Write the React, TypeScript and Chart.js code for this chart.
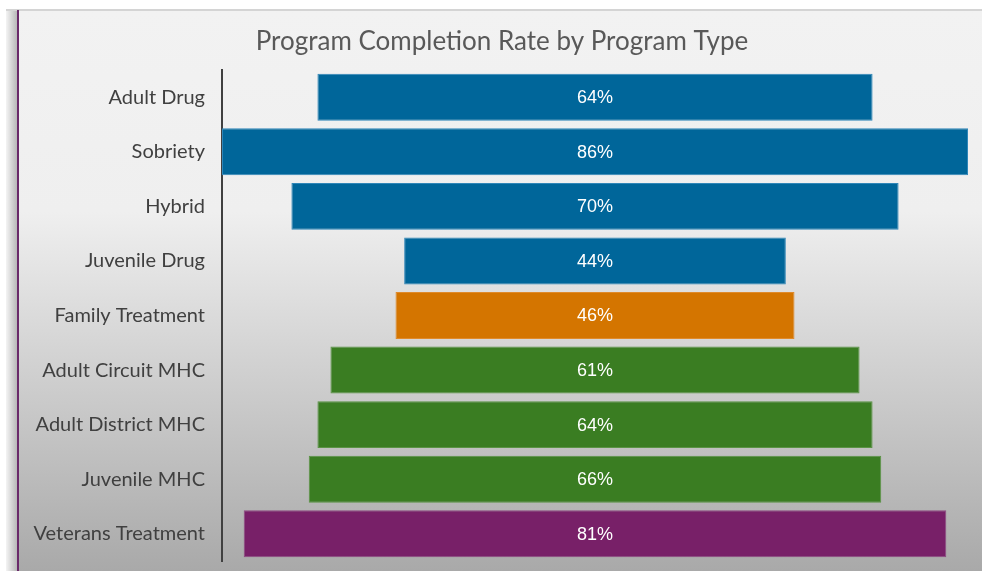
import React, { useEffect, useRef } from "react";
import { Chart, registerables } from "chart.js";

Chart.register(...registerables);

const categories = [
  "Adult Drug",
  "Sobriety",
  "Hybrid",
  "Juvenile Drug",
  "Family Treatment",
  "Adult Circuit MHC",
  "Adult District MHC",
  "Juvenile MHC",
  "Veterans Treatment",
];
const completionRates = [64, 86, 70, 44, 46, 61, 64, 66, 81];
const barColors = [
  "#00669A",
  "#00669A",
  "#00669A",
  "#00669A",
  "#D47500",
  "#3A7D22",
  "#3A7D22",
  "#3A7D22",
  "#782068",
];
const borderColors = [
  "#2F86B8",
  "#2F86B8",
  "#2F86B8",
  "#2F86B8",
  "#E08A2A",
  "#5A9444",
  "#5A9444",
  "#5A9444",
  "#8E4A82",
];
const title = "Program Completion Rate by Program Type";

const W = 982;
const H = 571;
const AREA_TOP = 70;
const AREA_BOTTOM = 561;

const backgroundPlugin = {
  id: "cardBackground",
  beforeDraw(chart: any) {
    const ctx = chart.ctx;
    ctx.save();
    ctx.fillStyle = "#ffffff";
    ctx.fillRect(0, 0, W, H);
    const sh = ctx.createLinearGradient(6, 0, 17, 0);
    sh.addColorStop(0, "#f4f4f4");
    sh.addColorStop(1, "#b8b8b8");
    ctx.fillStyle = sh;
    ctx.fillRect(6, 10, 11, H - 10);
    const g = ctx.createLinearGradient(0, 10, 0, H);
    g.addColorStop(0, "#f2f2f2");
    g.addColorStop(0.36, "#efefef");
    g.addColorStop(1, "#a9a9a9");
    ctx.fillStyle = g;
    ctx.fillRect(17, 10, W - 17, H - 10);
    ctx.fillStyle = "#d4d4d4";
    ctx.fillRect(6, 9, W - 6, 2);
    ctx.fillStyle = "#6a2a6a";
    ctx.fillRect(17, 10, 2, H - 10);
    ctx.fillStyle = "#595959";
    ctx.font = "26px Lato, 'Open Sans', sans-serif";
    ctx.textAlign = "center";
    ctx.textBaseline = "alphabetic";
    ctx.fillText(title, 502, 50);
    ctx.restore();
  },
};

const labelPlugin = {
  id: "barLabels",
  afterDatasetsDraw(chart: any) {
    const ctx = chart.ctx;
    const meta = chart.getDatasetMeta(0);
    const xScale = chart.scales.x;
    ctx.save();
    ctx.fillStyle = "#ffffff";
    ctx.font = "18px 'Liberation Sans', Arial, sans-serif";
    ctx.textAlign = "center";
    ctx.textBaseline = "middle";
    meta.data.forEach((bar: any, i: number) => {
      ctx.fillText(completionRates[i] + "%", xScale.getPixelForValue(0), bar.y + 1);
    });
    ctx.restore();
  },
};

export default function App() {
  const ref = useRef<HTMLCanvasElement>(null);

  useEffect(() => {
    if (!ref.current) return;
    const chart = new Chart(ref.current, {
      type: "bar",
      data: {
        labels: categories,
        datasets: [
          {
            data: completionRates.map((v) => [-v / 2, v / 2]) as any,
            backgroundColor: barColors,
            borderColor: borderColors,
            borderWidth: 1,
            borderSkipped: false,
            categoryPercentage: 1,
            barPercentage: 0.86,
          },
        ],
      },
      options: {
        indexAxis: "y",
        animation: false,
        responsive: false,
        maintainAspectRatio: false,
        devicePixelRatio: 1,
        layout: { autoPadding: false, padding: { left: 0, right: 14, top: AREA_TOP, bottom: H - AREA_BOTTOM } },
        plugins: {
          legend: { display: false },
          title: { display: false },
          tooltip: { enabled: false },
        },
        scales: {
          x: {
            display: false,
            min: -43,
            max: 43,
          },
          y: {
            afterFit(scale: any) {
              scale.width = 222;
              scale.paddingTop = 0;
              scale.paddingBottom = 0;
            },
            grid: { display: false, drawTicks: false },
            border: { display: true, color: "#404040", width: 2 },
            ticks: {
              color: "#404040",
              padding: 17,
              font: { family: "Lato, 'Open Sans', sans-serif", size: 20 },
            },
          },
        },
      },
      plugins: [backgroundPlugin, labelPlugin],
    });
    return () => chart.destroy();
  }, []);

  return (
    <div style={{ position: "fixed", left: 0, top: 0, width: W, height: H }}>
      <canvas ref={ref} width={W} height={H} style={{ width: W, height: H, display: "block" }} />
    </div>
  );
}
